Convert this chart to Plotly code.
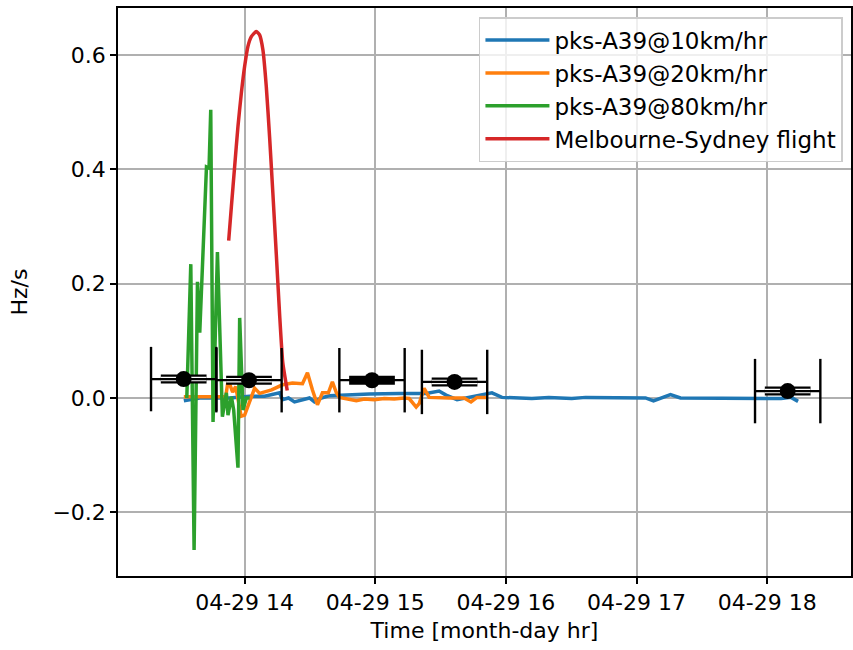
import pandas as pd
import plotly.graph_objects as go

DAY = "2019-04-29 "

# pks-A39 @ 10 km/hr
t_10 = ["13:32:04", "13:39:23", "13:53:08", "14:02:17", "14:09:10", "14:16:02", "14:17:24",
        "14:20:09", "14:22:54", "14:26:34", "14:29:46", "14:32:04", "14:35:16", "14:38:56",
        "14:43:31", "14:57:15", "15:10:59", "15:23:22", "15:29:19", "15:32:31", "15:37:34",
        "15:43:58", "15:50:50", "15:53:35", "15:58:10", "16:11:55", "16:19:42", "16:30:14",
        "16:36:38", "17:04:07", "17:07:47", "17:15:35", "17:20:10", "17:51:18", "18:06:25",
        "18:10:59", "18:14:12"]
v_10 = [-0.005, 0.0, 0.0, 0.003, 0.003, 0.009, -0.003,
        0.0, -0.007, -0.003, 0.0, -0.007, 0.0, 0.004,
        0.005, 0.007, 0.008, 0.008, 0.012, 0.005, -0.003,
        0.002, 0.007, 0.009, 0.001, -0.001, 0.001, -0.001,
        0.001, 0.0, -0.005, 0.006, 0.0, -0.001, -0.001,
        0.001, -0.006]

# pks-A39 @ 20 km/hr
t_20 = ["13:32:04", "13:51:18", "13:52:26", "13:54:30", "13:55:53", "13:58:24", "14:00:00",
        "14:04:35", "14:06:52", "14:12:22", "14:17:24", "14:21:59", "14:26:34", "14:28:51",
        "14:31:09", "14:33:26", "14:35:44", "14:38:28", "14:40:18", "14:42:08", "14:43:31",
        "14:48:05", "14:51:18", "14:54:58", "14:59:33", "15:04:07", "15:08:42", "15:13:17",
        "15:15:34", "15:18:47", "15:20:09", "15:22:26", "15:24:44", "15:33:53", "15:40:46",
        "15:43:58", "15:46:43", "15:51:18"]
v_20 = [0.002, 0.002, 0.031, 0.010, 0.020, -0.032, -0.030,
        0.017, 0.008, 0.014, 0.023, 0.026, 0.025, 0.044,
        0.014, -0.012, 0.009, 0.009, 0.028, 0.009, 0.001,
        -0.002, -0.005, -0.002, -0.003, -0.001, -0.002, 0.0,
        -0.001, -0.016, -0.010, 0.017, 0.001, 0.0, 0.0,
        -0.007, 0.001, 0.001]

# pks-A39 @ 80 km/hr
t_80 = ["13:33:26", "13:35:16", "13:36:47", "13:38:20", "13:39:23", "13:42:28", "13:43:39",
        "13:44:26", "13:45:29", "13:47:30", "13:49:47", "13:51:37", "13:52:21", "13:53:55",
        "13:54:58", "13:56:56", "13:57:43", "13:59:13", "14:00:47", "14:02:17"]
v_80 = [0.0, 0.234, -0.266, 0.203, 0.114, 0.404, 0.402,
        0.504, -0.042, 0.255, -0.033, 0.009, -0.030, 0.002,
        -0.021, -0.122, 0.140, -0.021, 0.0, 0.0]

# Melbourne-Sydney flight
t_fl = ["13:52:40", "13:53:55", "13:55:25", "13:56:56", "13:58:29", "14:00:00", "14:01:31",
        "14:03:04", "14:05:22", "14:06:52", "14:08:23", "14:09:56", "14:11:27", "14:12:58",
        "14:14:31", "14:16:02", "14:17:32", "14:19:34"]
v_fl = [0.275, 0.335, 0.405, 0.475, 0.533, 0.580, 0.615,
        0.632, 0.641, 0.635, 0.609, 0.545, 0.457, 0.358,
        0.253, 0.148, 0.061, 0.013]

# binned averages with time error bars
err_t = ["13:32:00", "14:02:00", "14:58:30", "15:36:25", "18:09:25"]
err_v = [0.033, 0.031, 0.031, 0.028, 0.012]
err_outer_min = [15, 15, 15, 15, 15]
err_inner_min = [10.5, 10.5, 10.5, 10.5, 10.5]
err_hollow = [1, 1, 0, 1, 1]

FONT = "DejaVu Sans"


def ts(lst):
    return [DAY + s for s in lst]


fig = go.Figure()

series = [
    (t_10, v_10, "pks-A39@10km/hr", "#1f77b4"),
    (t_20, v_20, "pks-A39@20km/hr", "#ff7f0e"),
    (t_80, v_80, "pks-A39@80km/hr", "#2ca02c"),
    (t_fl, v_fl, "Melbourne-Sydney flight", "#d62728"),
]
for t, v, name, col in series:
    fig.add_trace(go.Scatter(
        x=ts(t), y=v, mode="lines", name=name,
        line=dict(color=col, width=3.5,
                  shape="spline" if name.startswith("Melb") else "linear",
                  smoothing=0.5),
    ))


def segs(half_minutes, mask=None):
    xs, ys = [], []
    for i, (t, v, h) in enumerate(zip(err_t, err_v, half_minutes)):
        if mask is not None and not mask[i]:
            continue
        c = pd.Timestamp(DAY + t)
        d = pd.Timedelta(minutes=h)
        xs += [(c - d).isoformat(), (c + d).isoformat(), None]
        ys += [v, v, None]
    return xs, ys


# inner thick segment (drawn as a hollow triple line)
xi, yi = segs(err_inner_min)
fig.add_trace(go.Scatter(x=xi, y=yi, mode="lines", showlegend=False, hoverinfo="skip",
                         line=dict(color="black", width=9)))
xw, yw = segs(err_inner_min, err_hollow)
fig.add_trace(go.Scatter(x=xw, y=yw, mode="lines", showlegend=False, hoverinfo="skip",
                         line=dict(color="white", width=4.5)))
# outer thin bar
xo, yo = segs(err_outer_min)
fig.add_trace(go.Scatter(x=xo, y=yo, mode="lines", showlegend=False, hoverinfo="skip",
                         line=dict(color="black", width=2.2)))
# caps
cap_x, cap_y = [], []
for t, v, h in zip(err_t, err_v, err_outer_min):
    c = pd.Timestamp(DAY + t)
    d = pd.Timedelta(minutes=h)
    cap_x += [(c - d).isoformat(), (c + d).isoformat()]
    cap_y += [v, v]
fig.add_trace(go.Scatter(x=cap_x, y=cap_y, mode="markers", showlegend=False, hoverinfo="skip",
                         marker=dict(symbol="line-ns", size=46,
                                     line=dict(color="black", width=2.4))))
# markers
fig.add_trace(go.Scatter(x=ts(err_t), y=err_v, mode="markers", showlegend=False,
                         marker=dict(size=16, color="black")))

axis_common = dict(
    showgrid=True, gridcolor="#b0b0b0", gridwidth=1.5,
    showline=True, linecolor="black", linewidth=1.5, mirror=True,
    ticks="outside", ticklen=6, tickwidth=1.5, tickcolor="black",
    zeroline=False,
    tickfont=dict(family=FONT, size=22, color="black"),
)

fig.update_layout(
    width=853, height=650,
    margin=dict(l=118, r=0, t=8, b=74),
    paper_bgcolor="white", plot_bgcolor="white",
    font=dict(family=FONT, size=22, color="black"),
    xaxis=dict(
        type="date",
        range=[DAY + "13:01:50", DAY + "18:38:30"],
        tick0=DAY + "14:00:00", dtick=3600000,
        tickformat="%m-%d %H",
        title=dict(text="Time [month-day hr]", font=dict(family=FONT, size=22), standoff=8),
        **axis_common,
    ),
    yaxis=dict(
        range=[-0.3114, 0.682],
        tick0=0, dtick=0.2, tickformat=".1f",
        title=dict(text="Hz/s", font=dict(family=FONT, size=22), standoff=19),
        **axis_common,
    ),
    legend=dict(
        x=0.989, y=0.984, xanchor="right", yanchor="top",
        bgcolor="rgba(255,255,255,0.8)", bordercolor="#cccccc", borderwidth=1.5,
        font=dict(family=FONT, size=23, color="black"),
        itemwidth=64,
    ),
    showlegend=True,
)

fig.write_html("out.html")
